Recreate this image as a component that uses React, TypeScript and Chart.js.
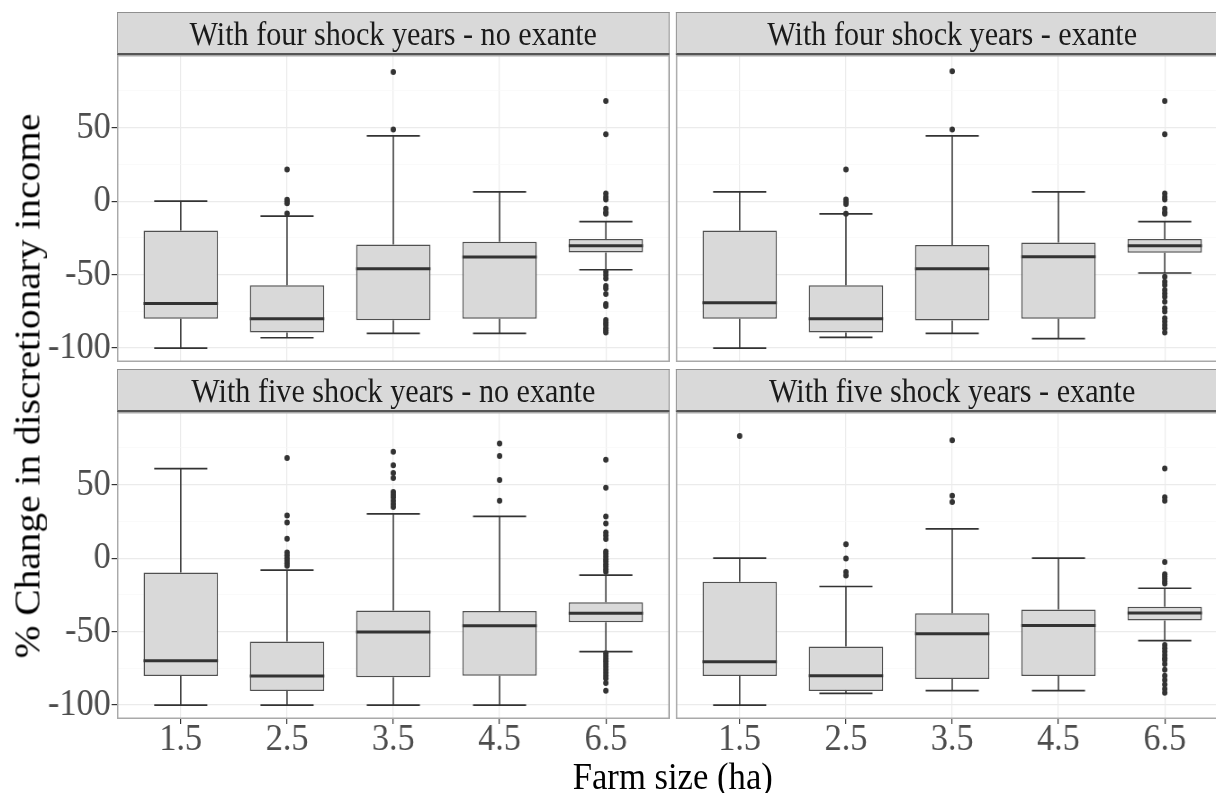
import React, { useEffect, useRef } from 'react';
import { Chart, registerables } from 'chart.js';

Chart.register(...registerables);

// ---------------- data ----------------
const categories = ['1.5', '2.5', '3.5', '4.5', '6.5'];
const categoryPositions = [1, 2, 3, 4, 5];
const yTickValues = [-100, -75, -50, -25, 0, 25, 50, 75];
const yAxisTitle = '% Change in discretionary income';
const xAxisTitle = 'Farm size (ha)';

const panelTitles = [
  'With four shock years - no exante',
  'With four shock years - exante',
  'With five shock years - no exante',
  'With five shock years - exante',
];

// With four shock years - no exante
const fourNoLower = [-100, -93, -90, -90, -46.7];
const fourNoQ1 = [-80, -89.5, -81, -80, -35];
const fourNoMedian = [-69.6, -80, -46, -38, -30.4];
const fourNoQ3 = [-20, -57.3, -29.5, -27.6, -25.8];
const fourNoUpper = [0, -10.2, 44.4, 6.3, -14];
const fourNoOutliers = [
  [],
  [21.5, 1, 0, -1.5, -8.4],
  [87.9, 48.7],
  [],
  [68.2, 45.5, 5.2, 2.9, 1.1, -5.2, -7.5, -8.6, -48, -50.3, -52.6, -57.8, -59.4, -63.2, -70, -71.4, -80.9, -82.7, -84.3, -86.5, -88.1, -89.5],
];

// With four shock years - exante
const fourExLower = [-100, -92.7, -90, -93.6, -48.9];
const fourExQ1 = [-80, -89.5, -81.3, -80, -35.1];
const fourExMedian = [-69.1, -80, -46, -37.8, -30.4];
const fourExQ3 = [-20, -57.3, -29.9, -28.1, -25.8];
const fourExUpper = [6.3, -8.6, 44.4, 6.3, -14];
const fourExOutliers = [
  [],
  [21.5, 1.1, -0.5, -2, -8.6],
  [88.4, 48.7],
  [],
  [68.2, 45.5, 5.2, 2.9, 1.1, -5.2, -7.5, -8.6, -51.4, -54.8, -57.1, -60.5, -62.8, -65, -68.4, -72.9, -75.2, -79.7, -82, -84.3, -86.5, -89.5],
];

// With five shock years - no exante
const fiveNoLower = [-100, -100, -100, -100, -63.6];
const fiveNoQ1 = [-80.2, -90.5, -81.1, -80, -43.6];
const fiveNoMedian = [-69.8, -80.2, -50.2, -46.1, -37.5];
const fiveNoQ3 = [-9.8, -56.8, -35.7, -35.9, -30];
const fiveNoUpper = [60.9, -8.2, 30.2, 28.4, -11.6];
const fiveNoOutliers = [
  [],
  [68.2, 29.1, 24.3, 13.2, 3.9, 2, 0, -1.8, -3.4, -5.2],
  [72.5, 63.2, 58, 54.5, 45, 43.2, 41.4, 39.1, 36.8, 34.8],
  [78, 69.5, 53.2, 39.1],
  [67, 48, 28.4, 23.6, 17.5, 15.5, 13, 4.5, 3, 1.1, -0.7, -2.3, -4.1, -5.7, -7.5, -9.3, -64.8, -66.6, -68.4, -70.2, -72, -73.9, -76, -78, -80, -82, -85, -90.2],
];

// With five shock years - exante
const fiveExLower = [-100, -92, -90.2, -90.2, -56.1];
const fiveExQ1 = [-80.2, -90.5, -82.3, -80.2, -42.5];
const fiveExMedian = [-70.5, -80, -51.4, -45.9, -37.3];
const fiveExQ3 = [-16.1, -60.2, -37.5, -35, -33];
const fiveExUpper = [0, -19.3, 20, 0, -20.5];
const fiveExOutliers = [
  [83.2],
  [9.5, -0.2, -9.5, -11.8],
  [80.2, 42.5, 38.2],
  [],
  [61.1, 41.4, 39.1, -2.7, -10.9, -12.5, -14.1, -15.9, -17.3, -59.1, -61.4, -63.6, -65.9, -68.2, -69.3, -72, -76, -80, -83, -86, -89, -91.6],
];

// ---------------- layout / style ----------------
const SX = 0.9; // horizontal squash of the whole figure
const FONT = '"Liberation Serif", "Times New Roman", serif';
const Y_MIN = -109.5;
const Y_MAX = 99.5;
const X_MIN = 0.4;
const X_MAX = 5.6;
const BOX_HALF = 0.35;
const CAP_HALF = 0.25;

const PANEL_W = 614;
const PANEL_H = 307;
const LEFT_X = 130;
const RIGHT_X = 751;
const STRIP_H = 43;
const TOP_STRIP_Y = 12;
const BOTTOM_STRIP_Y = 369;
const YAXIS_W = 100;
const XAXIS_H = 60;

type PanelData = {
  title: string;
  lower: number[];
  q1: number[];
  median: number[];
  q3: number[];
  upper: number[];
  outliers: number[][];
};

const panels: PanelData[] = [
  { title: panelTitles[0], lower: fourNoLower, q1: fourNoQ1, median: fourNoMedian, q3: fourNoQ3, upper: fourNoUpper, outliers: fourNoOutliers },
  { title: panelTitles[1], lower: fourExLower, q1: fourExQ1, median: fourExMedian, q3: fourExQ3, upper: fourExUpper, outliers: fourExOutliers },
  { title: panelTitles[2], lower: fiveNoLower, q1: fiveNoQ1, median: fiveNoMedian, q3: fiveNoQ3, upper: fiveNoUpper, outliers: fiveNoOutliers },
  { title: panelTitles[3], lower: fiveExLower, q1: fiveExQ1, median: fiveExMedian, q3: fiveExQ3, upper: fiveExUpper, outliers: fiveExOutliers },
];

const panelBorder = {
  id: 'panelBorder',
  afterDraw(chart: any) {
    const { ctx, chartArea: a } = chart;
    ctx.save();
    ctx.strokeStyle = '#a9a9a9';
    ctx.lineWidth = 1.5;
    ctx.strokeRect(a.left + 0.75, a.top + 0.75, a.right - a.left - 1.5, a.bottom - a.top - 1.5);
    ctx.restore();
  },
};

function buildConfig(p: PanelData, showX: boolean, showY: boolean): any {
  const boxData = categoryPositions.map((x, i) => ({ x, y: [p.q1[i], p.q3[i]] }));
  const whiskerData: any[] = [];
  const capData: any[] = [];
  const medianData: any[] = [];
  const outlierData: any[] = [];
  categoryPositions.forEach((x, i) => {
    whiskerData.push(
      { x, y: p.q3[i] }, { x, y: p.upper[i] }, { x, y: null },
      { x, y: p.q1[i] }, { x, y: p.lower[i] }, { x, y: null },
    );
    capData.push(
      { x: x - CAP_HALF, y: p.upper[i] }, { x: x + CAP_HALF, y: p.upper[i] }, { x, y: null },
      { x: x - CAP_HALF, y: p.lower[i] }, { x: x + CAP_HALF, y: p.lower[i] }, { x, y: null },
    );
    medianData.push(
      { x: x - BOX_HALF, y: p.median[i] }, { x: x + BOX_HALF, y: p.median[i] }, { x, y: null },
    );
    p.outliers[i].forEach((v) => outlierData.push({ x, y: v }));
  });

  const lineCommon = { pointRadius: 0, tension: 0, spanGaps: false, fill: false };

  return {
    type: 'bar',
    data: {
      datasets: [
        {
          type: 'bar', data: boxData, backgroundColor: '#d9d9d9', borderColor: '#505050',
          borderWidth: 1.5, borderSkipped: false, barPercentage: 0.7, categoryPercentage: 1, order: 2,
        },
        { type: 'line', data: whiskerData, borderColor: '#333333', borderWidth: 1.5, order: 3, ...lineCommon },
        { type: 'line', data: capData, borderColor: '#333333', borderWidth: 1.7, order: 3, ...lineCommon },
        { type: 'line', data: medianData, borderColor: '#333333', borderWidth: 3, order: 1, ...lineCommon },
        {
          type: 'scatter', data: outlierData, pointRadius: 3, backgroundColor: '#333333',
          borderWidth: 0, showLine: false, order: 0,
        },
      ],
    },
    options: {
      responsive: false,
      animation: false,
      devicePixelRatio: 1,
      events: [],
      layout: { padding: 0, autoPadding: false },
      plugins: { legend: { display: false }, tooltip: { enabled: false } },
      scales: {
        x: {
          type: 'linear', min: X_MIN, max: X_MAX, offset: false,
          afterBuildTicks: (s: any) => { s.ticks = categoryPositions.map((v) => ({ value: v })); },
          afterFit: (s: any) => {
            s.height = showX ? XAXIS_H : 0;
            s.paddingLeft = 0; s.paddingRight = 0; s.paddingTop = 0; s.paddingBottom = 0;
          },
          border: { display: false },
          grid: {
            color: '#ebebeb', lineWidth: 1.2, offset: false,
            drawTicks: showX, tickLength: 5, tickColor: '#333333', tickWidth: 1.2,
          },
          ticks: {
            display: showX, autoSkip: false, maxRotation: 0, minRotation: 0, padding: -3,
            color: '#4d4d4d', font: { family: FONT, size: 38, lineHeight: 1 },
            callback: (_v: any, i: number) => categories[i],
          },
        },
        y: {
          type: 'linear', min: Y_MIN, max: Y_MAX, beginAtZero: false,
          afterBuildTicks: (s: any) => { s.ticks = yTickValues.map((v) => ({ value: v })); },
          afterFit: (s: any) => {
            s.width = showY ? YAXIS_W : 0;
            s.paddingLeft = 0; s.paddingRight = 0; s.paddingTop = 0; s.paddingBottom = 0;
          },
          border: { display: false },
          grid: {
            color: (c: any) => (c.tick && c.tick.value % 50 === 0 ? '#ebebeb' : '#f6f6f6'),
            lineWidth: (c: any) => (c.tick && c.tick.value % 50 === 0 ? 1.2 : 0.6),
            drawTicks: showY, tickLength: 6,
            tickColor: (c: any) => (c.tick && c.tick.value % 50 === 0 ? '#333333' : 'rgba(0,0,0,0)'),
            tickWidth: 1.2,
          },
          ticks: {
            display: showY, autoSkip: false, padding: 1,
            color: '#4d4d4d', font: { family: FONT, size: 38, lineHeight: 1 },
            callback: (v: any) => (Number(v) % 50 === 0 ? String(v) : ''),
          },
        },
      },
    },
    plugins: [panelBorder],
  };
}

function Panel({ p, left, top, showX, showY }: { p: PanelData; left: number; top: number; showX: boolean; showY: boolean }) {
  const ref = useRef<HTMLCanvasElement>(null);
  const w = PANEL_W + (showY ? YAXIS_W : 0);
  const h = PANEL_H + (showX ? XAXIS_H : 0);
  useEffect(() => {
    const chart = new Chart(ref.current as HTMLCanvasElement, buildConfig(p, showX, showY));
    return () => chart.destroy();
  }, []);
  return (
    <canvas
      ref={ref}
      width={w}
      height={h}
      style={{ position: 'absolute', left: left - (showY ? YAXIS_W : 0), top, width: w, height: h, display: 'block' }}
    />
  );
}

function Strip({ title, left, top }: { title: string; left: number; top: number }) {
  return (
    <div
      style={{
        position: 'absolute', left, top, width: PANEL_W, height: STRIP_H, boxSizing: 'border-box',
        background: '#d9d9d9', borderTop: '1px solid #8f8f8f', borderLeft: '1px solid #8f8f8f',
        borderRight: '1px solid #8f8f8f', borderBottom: '2px solid #555555',
        display: 'flex', alignItems: 'center', justifyContent: 'center',
        fontFamily: FONT, fontSize: 33.5, lineHeight: '33px', color: '#1a1a1a', whiteSpace: 'nowrap',
      }}
    >
      {title}
    </div>
  );
}

export default function App() {
  const innerW = 1216 / SX;
  const topPlotY = TOP_STRIP_Y + STRIP_H;
  const bottomPlotY = BOTTOM_STRIP_Y + STRIP_H;
  return (
    <div style={{ position: 'fixed', left: 0, top: 0, width: 1216, height: 793, overflow: 'hidden', background: '#ffffff' }}>
      <div style={{ position: 'absolute', left: 0, top: 0, width: innerW, height: 793, transform: `scaleX(${SX})`, transformOrigin: '0 0' }}>
        <Strip title={panels[0].title} left={LEFT_X} top={TOP_STRIP_Y} />
        <Strip title={panels[1].title} left={RIGHT_X} top={TOP_STRIP_Y} />
        <Strip title={panels[2].title} left={LEFT_X} top={BOTTOM_STRIP_Y} />
        <Strip title={panels[3].title} left={RIGHT_X} top={BOTTOM_STRIP_Y} />
        <Panel p={panels[0]} left={LEFT_X} top={topPlotY} showX={false} showY={true} />
        <Panel p={panels[1]} left={RIGHT_X} top={topPlotY} showX={false} showY={false} />
        <Panel p={panels[2]} left={LEFT_X} top={bottomPlotY} showX={true} showY={true} />
        <Panel p={panels[3]} left={RIGHT_X} top={bottomPlotY} showX={true} showY={false} />
        <div
          style={{
            position: 'absolute', left: 30.5, top: 385.5, transform: 'translate(-50%, -50%) rotate(-90deg)',
            fontFamily: FONT, fontSize: 39.4, lineHeight: '39.4px', color: '#000000', whiteSpace: 'nowrap',
          }}
        >
          {yAxisTitle}
        </div>
        <div
          style={{
            position: 'absolute', left: (LEFT_X + RIGHT_X + PANEL_W) / 2, top: 756.5, transform: 'translateX(-50%)',
            fontFamily: FONT, fontSize: 38.5, lineHeight: '38.5px', color: '#000000', whiteSpace: 'nowrap',
          }}
        >
          {xAxisTitle}
        </div>
      </div>
    </div>
  );
}
